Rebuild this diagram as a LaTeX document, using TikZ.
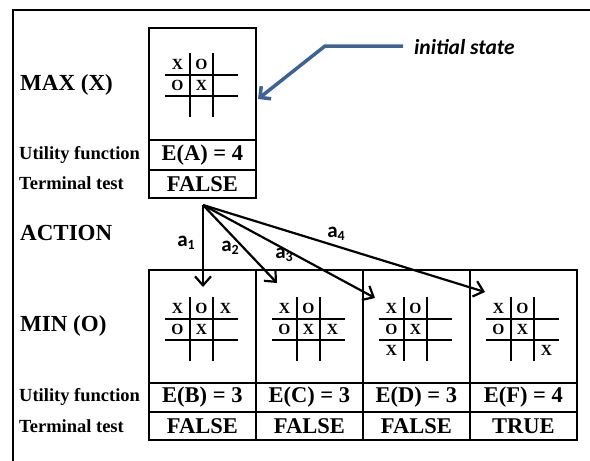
\documentclass[tikz,border=0pt]{standalone}
\usepackage{fontspec}
\setmainfont{Liberation Serif}
\newfontfamily\carl{Carlito}
\usetikzlibrary{arrows.meta}
\definecolor{arrowblue}{RGB}{61,99,150}
\newcommand\subdig[1]{\raisebox{-0.35ex}{\fontsize{14}{14}\selectfont #1}}
\tikzset{
  frame/.style={line width=2pt},
  cellbox/.style={draw, line width=1.8pt, inner sep=0pt, anchor=north west},
  grid/.style={line width=1.6pt},
  xo/.style={font=\fontsize{15.5}{15.5}\selectfont\bfseries, inner sep=0pt},
  lbl/.style={font=\fontsize{23}{23}\selectfont\bfseries, anchor=west, inner sep=0pt},
  smlbl/.style={font=\fontsize{18.5}{18.5}\selectfont\bfseries, anchor=west, inner sep=0pt},
  val/.style={font=\fontsize{22.5}{22.5}\selectfont\bfseries, inner sep=0pt},
  act/.style={font=\carl\fontsize{21}{21}\selectfont\bfseries, inner sep=0pt},
  actarrow/.style={line width=2.2pt, -{Straight Barb[length=9pt,width=16pt,line width=2.2pt]}},
  bluearrow/.style={draw=arrowblue, line width=3.5pt, -{Straight Barb[length=8pt,width=16pt,line width=3.5pt]}}
}
\newcommand\xoboard[4]{%
  \draw[grid] ({#2+25},#3) -- ({#2+25},{#3+64}) ({#2+48},#3) -- ({#2+48},{#3+64})
    (#2,{#3+22}) -- ({#2+73},{#3+22}) (#2,{#3+43}) -- ({#2+73},{#3+43});
  \foreach \c/\r/\l in {#4} {
    \node[xo] (#1-\c\r) at ({#2+12.5+24*(\c-1)}, {#3+11.5+21*(\r-1)}) {\l};
  }
}
\begin{document}
\begin{tikzpicture}[x=1pt,y=-1pt]
\useasboundingbox (0,0) rectangle (590,461);
\draw[frame] (13,461) -- (13,10) -- (590,10);

% root state A
\node[cellbox, minimum width=107pt, minimum height=112pt] (A) at (148,27) {};
\node[cellbox, minimum width=107pt, minimum height=30pt] (Au) at (148,139) {};
\node[cellbox, minimum width=107pt, minimum height=28pt] (At) at (148,169) {};
\xoboard{bA}{165}{53}{1/1/X,2/1/O,1/2/O,2/2/X}
\node[val] (Auv) at (Au.center) {E(A) = 4};
\node[val] (Atv) at (At.center) {FALSE};

% left labels
\node[lbl] (max) at (20,85) {MAX (X)};
\node[smlbl] (u1) at (19,155) {Utility function};
\node[smlbl] (t1) at (19,183) {Terminal test};
\node[lbl] (action) at (20,233) {ACTION};
\node[lbl] (min) at (20,326) {MIN (O)};
\node[smlbl] (u2) at (19,397) {Utility function};
\node[smlbl] (t2) at (19,426) {Terminal test};

% child states
\foreach \n/\x/\e/\t in {B/148/E(B) = 3/FALSE, C/255/E(C) = 3/FALSE, D/362/E(D) = 3/FALSE, F/469/E(F) = 4/TRUE} {
  \node[cellbox, minimum width=107pt, minimum height=113pt] (\n) at (\x,269) {};
  \node[cellbox, minimum width=107pt, minimum height=29pt] (\n u) at (\x,382) {};
  \node[cellbox, minimum width=107pt, minimum height=28pt] (\n t) at (\x,411) {};
  \node[val] (\n uv) at (\n u.center) {\e};
  \node[val] (\n tv) at (\n t.center) {\t};
}
\xoboard{bB}{165}{297}{1/1/X,2/1/O,3/1/X,1/2/O,2/2/X}
\xoboard{bC}{272}{297}{1/1/X,2/1/O,1/2/O,2/2/X,3/2/X}
\xoboard{bD}{379}{297}{1/1/X,2/1/O,1/2/O,2/2/X,1/3/X}
\xoboard{bF}{486}{297}{1/1/X,2/1/O,1/2/O,2/2/X,3/3/X}

% actions
\coordinate (s) at (203,205);
\coordinate (t1) at (203,287);
\coordinate (t2) at (277,283);
\coordinate (t3) at (375,298);
\coordinate (t4) at (485,292);
\draw[actarrow] (s) -- (t1);
\draw[actarrow] (s) -- (t2);
\draw[actarrow] (s) -- (t3);
\draw[actarrow] (s) -- (t4);
\node[act] (a1) at (186,243) {a\subdig{1}};
\node[act] (a2) at (230,248) {a\subdig{2}};
\node[act] (a3) at (284,255) {a\subdig{3}};
\node[act] (a4) at (336,234) {a\subdig{4}};

% initial state pointer
\node[font=\carl\fontsize{21.5}{21.5}\selectfont\bfseries\itshape, anchor=west, inner sep=0pt] (init) at (414,47) {initial state};
\coordinate (bend) at (325,46);
\coordinate (tip) at (258,99);
\draw[bluearrow] (403,46) -- (bend) -- (tip);
\end{tikzpicture}
\end{document}
